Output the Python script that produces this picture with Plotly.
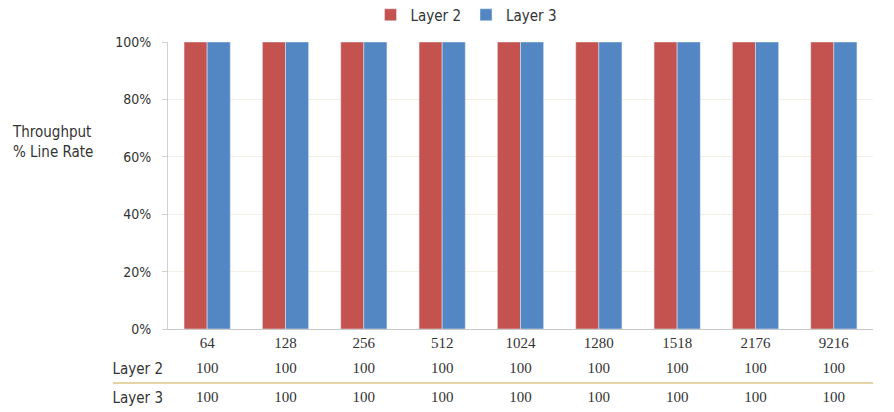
import plotly.graph_objects as go

categories = ["64", "128", "256", "512", "1024", "1280", "1518", "2176", "9216"]
layer2 = [100, 100, 100, 100, 100, 100, 100, 100, 100]
layer3 = [100, 100, 100, 100, 100, 100, 100, 100, 100]
y_ticks = [0, 20, 40, 60, 80, 100]
y_tick_labels = [f"{v}%" for v in y_ticks]
series_names = ["Layer 2", "Layer 3"]
series_colors = ["#C4534F", "#5387C4"]

SANS = "DejaVu Sans Condensed, Roboto, sans-serif"
SERIF = "Liberation Serif, serif"
TXT = "#333333"

# page body adds ~8px offset; figure sized to fit window
W, H = 886, 404
ml, mr, mt, mb = 160, 21, 34, 0
pw, ph = W - ml - mr, H - mt - mb
bar_bottom = 321  # figure px of 0% baseline
split = (H - bar_bottom) / ph

fig = go.Figure()
for name, vals, col in zip(series_names, [layer2, layer3], series_colors):
    fig.add_trace(go.Bar(x=categories, y=vals, name=name, marker_color=col,
                         xaxis="x", yaxis="y"))

for name, vals in zip(series_names, [layer2, layer3]):
    fig.add_trace(go.Scatter(x=categories, y=[name] * len(vals),
                             text=[str(v) for v in vals], mode="text",
                             textfont=dict(family=SERIF, size=15, color=TXT),
                             showlegend=False, hoverinfo="skip",
                             xaxis="x", yaxis="y2"))

fig.update_layout(
    width=W, height=H, autosize=False,
    margin=dict(l=ml, r=mr, t=mt, b=mb, pad=0, autoexpand=False),
    paper_bgcolor="white", plot_bgcolor="white",
    barmode="group", bargap=0.41, bargroupgap=0,
    legend=dict(orientation="h", x=(466 - 168) / pw, xanchor="center",
                y=1 + (34 - 7) / ph, yanchor="middle",
                font=dict(family=SANS, size=15, color=TXT)),
    xaxis=dict(type="category", anchor="y", showline=True, linecolor="#C8C8C8",
               linewidth=1, ticks="", showgrid=False, zeroline=False,
               tickfont=dict(family=SERIF, size=15, color=TXT)),
    yaxis=dict(domain=[split, 1], anchor="x", range=[0, 100], tickmode="array",
               tickvals=y_ticks, ticktext=y_tick_labels,
               showline=True, linecolor="#D0D0D0", linewidth=1,
               ticks="outside", ticklen=5, tickcolor="#D0D0D0", ticklabelstandoff=8,
               showgrid=True, gridcolor="#F3F0E6", gridwidth=1, zeroline=False,
               tickfont=dict(family=SANS, size=14, color=TXT)),
    yaxis2=dict(domain=[0, split], anchor="x", type="category",
                categoryorder="array", categoryarray=series_names[::-1],
                range=[-0.483, 2.379], showline=False, showgrid=False,
                zeroline=False, ticks="", ticklabelstandoff=4,
                tickfont=dict(family=SANS, size=15, color=TXT)),
    annotations=[dict(x=(2 - ml) / pw, y=(H - 134) / ph, xref="paper", yref="paper",
                      text="Throughput<br>% Line Rate", showarrow=False, align="left",
                      xanchor="left", yanchor="middle",
                      font=dict(family=SANS, size=15, color=TXT))],
    shapes=[dict(type="line", xref="paper", yref="y2",
                 x0=(113 - 168) / pw, x1=1, y0=0.52, y1=0.52,
                 line=dict(color="#E6D3A6", width=2))],
)

fig.write_html("out.html")
